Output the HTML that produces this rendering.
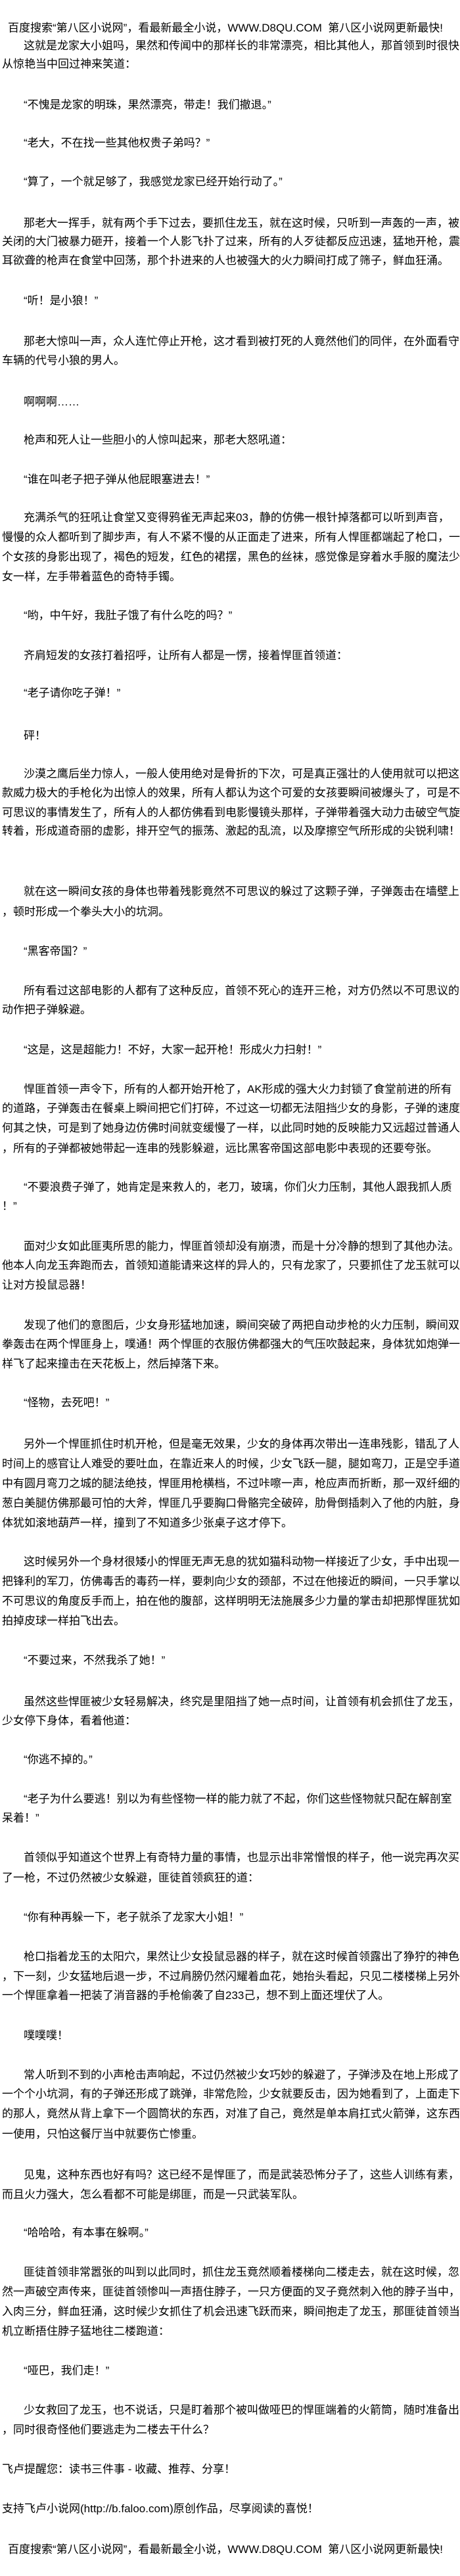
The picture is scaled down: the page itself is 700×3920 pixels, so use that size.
<!DOCTYPE html>
<html><head><meta charset="utf-8"><style>
html,body{margin:0;padding:0;background:#fff;}
body{width:700px;height:3920px;position:relative;overflow:hidden;font-family:"Liberation Sans","Noto Sans CJK SC",sans-serif;font-size:17px;color:#000;}
.l{position:absolute;left:3px;white-space:nowrap;line-height:24px;height:24px;}
.i{left:36px;}
.h{left:12px;}
</style></head><body>
<div class="l h" style="top:31px">百度搜索“第八区小说网”，看最新最全小说，WWW.D8QU.COM&nbsp;&nbsp;第八区小说网更新最快!</div>
<div class="l i" style="top:58px">这就是龙家大小姐吗，果然和传闻中的那样长的非常漂亮，相比其他人，那首领到时很快</div>
<div class="l" style="top:86px">从惊艳当中回过神来笑道：</div>
<div class="l i" style="top:148px">“不愧是龙家的明珠，果然漂亮，带走！我们撤退。”</div>
<div class="l i" style="top:206px">“老大，不在找一些其他权贵子弟吗？”</div>
<div class="l i" style="top:265px">“算了，一个就足够了，我感觉龙家已经开始行动了。”</div>
<div class="l i" style="top:328px">那老大一挥手，就有两个手下过去，要抓住龙玉，就在这时候，只听到一声轰的一声，被</div>
<div class="l" style="top:356px">关闭的大门被暴力砸开，接着一个人影飞扑了过来，所有的人歹徒都反应迅速，猛地开枪，震</div>
<div class="l" style="top:385px">耳欲聋的枪声在食堂中回荡，那个扑进来的人也被强大的火力瞬间打成了筛子，鲜血狂涌。</div>
<div class="l i" style="top:446px">“听！是小狼！”</div>
<div class="l i" style="top:508px">那老大惊叫一声，众人连忙停止开枪，这才看到被打死的人竟然他们的同伴，在外面看守</div>
<div class="l" style="top:537px">车辆的代号小狼的男人。</div>
<div class="l i" style="top:600px">啊啊啊……</div>
<div class="l i" style="top:658px">枪声和死人让一些胆小的人惊叫起来，那老大怒吼道：</div>
<div class="l i" style="top:718px">“谁在叫老子把子弹从他屁眼塞进去！”</div>
<div class="l i" style="top:776px">充满杀气的狂吼让食堂又变得鸦雀无声起来03，静的仿佛一根针掉落都可以听到声音，</div>
<div class="l" style="top:806px">慢慢的众人都听到了脚步声，有人不紧不慢的从正面走了进来，所有人悍匪都端起了枪口，一</div>
<div class="l" style="top:836px">个女孩的身影出现了，褐色的短发，红色的裙摆，黑色的丝袜，感觉像是穿着水手服的魔法少</div>
<div class="l" style="top:866px">女一样，左手带着蓝色的奇特手镯。</div>
<div class="l i" style="top:925px">“哟，中午好，我肚子饿了有什么吃的吗？”</div>
<div class="l i" style="top:986px">齐肩短发的女孩打着招呼，让所有人都是一愣，接着悍匪首领道：</div>
<div class="l i" style="top:1043px">“老子请你吃子弹！”</div>
<div class="l i" style="top:1108px">砰！</div>
<div class="l i" style="top:1166px">沙漠之鹰后坐力惊人，一般人使用绝对是骨折的下次，可是真正强壮的人使用就可以把这</div>
<div class="l" style="top:1195px">款威力极大的手枪化为出惊人的效果，所有人都认为这个可爱的女孩要瞬间被爆头了，可是不</div>
<div class="l" style="top:1225px">可思议的事情发生了，所有人的人都仿佛看到电影慢镜头那样，子弹带着强大动力击破空气旋</div>
<div class="l" style="top:1253px">转着，形成道奇丽的虚影，排开空气的振荡、激起的乱流，以及摩擦空气所形成的尖锐利啸！</div>
<div class="l i" style="top:1345px">就在这一瞬间女孩的身体也带着残影竟然不可思议的躲过了这颗子弹，子弹轰击在墙壁上</div>
<div class="l" style="top:1376px">，顿时形成一个拳头大小的坑洞。</div>
<div class="l i" style="top:1436px">“黑客帝国？”</div>
<div class="l i" style="top:1496px">所有看过这部电影的人都有了这种反应，首领不死心的连开三枪，对方仍然以不可思议的</div>
<div class="l" style="top:1525px">动作把子弹躲避。</div>
<div class="l i" style="top:1586px">“这是，这是超能力！不好，大家一起开枪！形成火力扫射！”</div>
<div class="l i" style="top:1646px">悍匪首领一声令下，所有的人都开始开枪了，AK形成的强大火力封锁了食堂前进的所有</div>
<div class="l" style="top:1675px">的道路，子弹轰击在餐桌上瞬间把它们打碎，不过这一切都无法阻挡少女的身影，子弹的速度</div>
<div class="l" style="top:1705px">何其之快，可是到了她身边仿佛时间就变缓慢了一样，以此同时她的反映能力又远超过普通人</div>
<div class="l" style="top:1736px">，所有的子弹都被她带起一连串的残影躲避，远比黑客帝国这部电影中表现的还要夸张。</div>
<div class="l i" style="top:1795px">“不要浪费子弹了，她肯定是来救人的，老刀，玻璃，你们火力压制，其他人跟我抓人质</div>
<div class="l" style="top:1824px">！”</div>
<div class="l i" style="top:1885px">面对少女如此匪夷所思的能力，悍匪首领却没有崩溃，而是十分冷静的想到了其他办法。</div>
<div class="l" style="top:1914px">他本人向龙玉奔跑而去，首领知道能请来这样的异人的，只有龙家了，只要抓住了龙玉就可以</div>
<div class="l" style="top:1944px">让对方投鼠忌器！</div>
<div class="l i" style="top:2005px">发现了他们的意图后，少女身形猛地加速，瞬间突破了两把自动步枪的火力压制，瞬间双</div>
<div class="l" style="top:2034px">拳轰击在两个悍匪身上，噗通！两个悍匪的衣服仿佛都强大的气压吹鼓起来，身体犹如炮弹一</div>
<div class="l" style="top:2064px">样飞了起来撞击在天花板上，然后掉落下来。</div>
<div class="l i" style="top:2123px">“怪物，去死吧！”</div>
<div class="l i" style="top:2186px">另外一个悍匪抓住时机开枪，但是毫无效果，少女的身体再次带出一连串残影，错乱了人</div>
<div class="l" style="top:2216px">时间上的感官让人难受的要吐血，在靠近来人的时候，少女飞跃一腿，腿如弯刀，正是空手道</div>
<div class="l" style="top:2246px">中有圆月弯刀之城的腿法绝技，悍匪用枪横档，不过咔嚓一声，枪应声而折断，那一双纤细的</div>
<div class="l" style="top:2276px">葱白美腿仿佛那最可怕的大斧，悍匪几乎要胸口骨骼完全破碎，肋骨倒插刺入了他的内脏，身</div>
<div class="l" style="top:2306px">体犹如滚地葫芦一样，撞到了不知道多少张桌子这才停下。</div>
<div class="l i" style="top:2365px">这时候另外一个身材很矮小的悍匪无声无息的犹如猫科动物一样接近了少女，手中出现一</div>
<div class="l" style="top:2395px">把锋利的军刀，仿佛毒舌的毒药一样，要刺向少女的颈部，不过在他接近的瞬间，一只手掌以</div>
<div class="l" style="top:2425px">不可思议的角度反手而上，拍在他的腹部，这样明明无法施展多少力量的掌击却把那悍匪犹如</div>
<div class="l" style="top:2455px">拍掉皮球一样拍飞出去。</div>
<div class="l i" style="top:2515px">“不要过来，不然我杀了她！”</div>
<div class="l i" style="top:2578px">虽然这些悍匪被少女轻易解决，终究是里阻挡了她一点时间，让首领有机会抓住了龙玉，</div>
<div class="l" style="top:2607px">少女停下身体，看着他道：</div>
<div class="l i" style="top:2666px">“你逃不掉的。”</div>
<div class="l i" style="top:2726px">“老子为什么要逃！别以为有些怪物一样的能力就了不起，你们这些怪物就只配在解剖室</div>
<div class="l" style="top:2755px">呆着！”</div>
<div class="l i" style="top:2815px">首领似乎知道这个世界上有奇特力量的事情，也显示出非常憎恨的样子，他一说完再次买</div>
<div class="l" style="top:2846px">了一枪，不过仍然被少女躲避，匪徒首领疯狂的道：</div>
<div class="l i" style="top:2906px">“你有种再躲一下，老子就杀了龙家大小姐！”</div>
<div class="l i" style="top:2966px">枪口指着龙玉的太阳穴，果然让少女投鼠忌器的样子，就在这时候首领露出了狰狞的神色</div>
<div class="l" style="top:2996px">，下一刻，少女猛地后退一步，不过肩膀仍然闪耀着血花，她抬头看起，只见二楼楼梯上另外</div>
<div class="l" style="top:3025px">一个悍匪拿着一把装了消音器的手枪偷袭了自233己，想不到上面还埋伏了人。</div>
<div class="l i" style="top:3086px">噗噗噗！</div>
<div class="l i" style="top:3146px">常人听到不到的小声枪击声响起，不过仍然被少女巧妙的躲避了，子弹涉及在地上形成了</div>
<div class="l" style="top:3175px">一个个小坑洞，有的子弹还形成了跳弹，非常危险，少女就要反击，因为她看到了，上面走下</div>
<div class="l" style="top:3205px">的那人，竟然从背上拿下一个圆筒状的东西，对准了自己，竟然是单本肩扛式火箭弹，这东西</div>
<div class="l" style="top:3236px">一使用，只怕这餐厅当中就要伤亡惨重。</div>
<div class="l i" style="top:3298px">见鬼，这种东西也好有吗？这已经不是悍匪了，而是武装恐怖分子了，这些人训练有素，</div>
<div class="l" style="top:3328px">而且火力强大，怎么看都不可能是绑匪，而是一只武装军队。</div>
<div class="l i" style="top:3386px">“哈哈哈，有本事在躲啊。”</div>
<div class="l i" style="top:3446px">匪徒首领非常嚣张的叫到以此同时，抓住龙玉竟然顺着楼梯向二楼走去，就在这时候，忽</div>
<div class="l" style="top:3476px">然一声破空声传来，匪徒首领惨叫一声捂住脖子，一只方便面的叉子竟然刺入他的脖子当中，</div>
<div class="l" style="top:3506px">入肉三分，鲜血狂涌，这时候少女抓住了机会迅速飞跃而来，瞬间抱走了龙玉，那匪徒首领当</div>
<div class="l" style="top:3536px">机立断捂住脖子猛地往二楼跑道：</div>
<div class="l i" style="top:3596px">“哑巴，我们走！”</div>
<div class="l i" style="top:3656px">少女救回了龙玉，也不说话，只是盯着那个被叫做哑巴的悍匪端着的火箭筒，随时准备出手</div>
<div class="l" style="top:3686px">，同时很奇怪他们要逃走为二楼去干什么？</div>
<div class="l" style="top:3746px">飞卢提醒您：读书三件事 - 收藏、推荐、分享！</div>
<div class="l" style="top:3806px">支持飞卢小说网(http://b.faloo.com)原创作品，尽享阅读的喜悦！</div>
<div class="l h" style="top:3868px">百度搜索“第八区小说网”，看最新最全小说，WWW.D8QU.COM&nbsp;&nbsp;第八区小说网更新最快!</div>
</body></html>
